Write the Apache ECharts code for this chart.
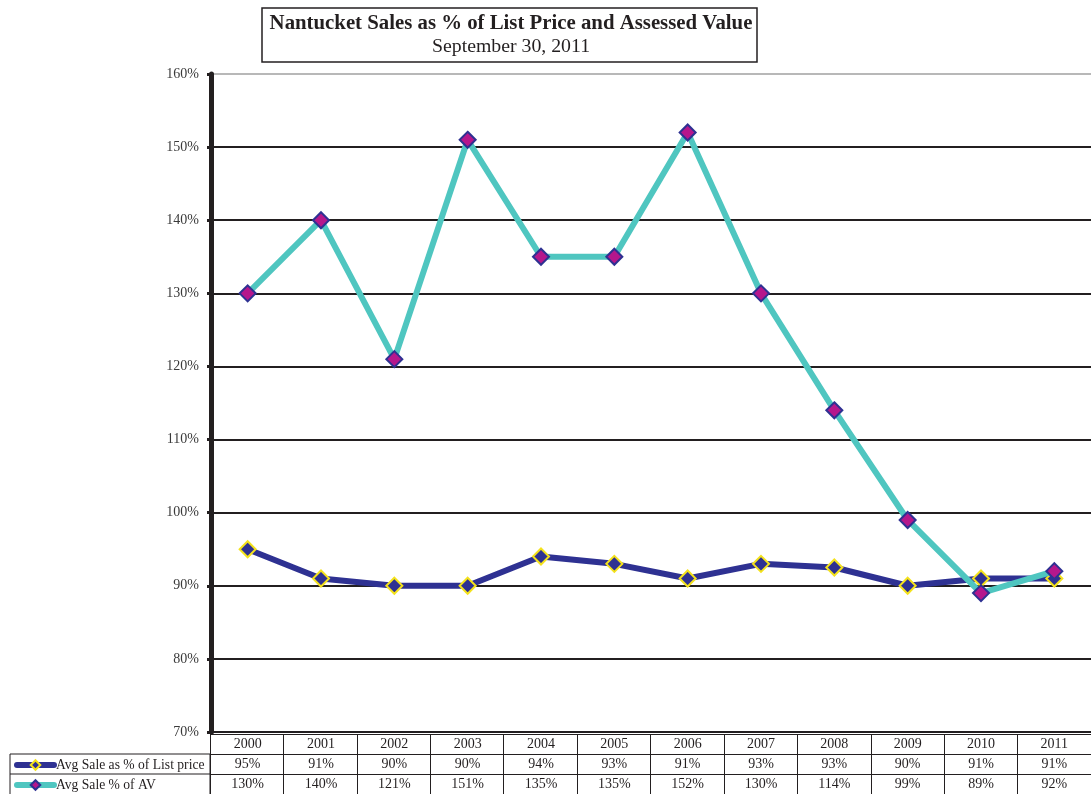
<!DOCTYPE html>
<html>
<head>
<meta charset="utf-8">
<script src="https://cdn.jsdelivr.net/npm/echarts@6/dist/echarts.min.js"></script>
<style>
  html, body { margin: 0; padding: 0; background: #fff; }
  #chart { width: 1091px; height: 794px; }
</style>
</head>
<body>
<div id="chart"></div>
<script>
// Nantucket sales ratios by year
const years = ['2000', '2001', '2002', '2003', '2004', '2005', '2006', '2007', '2008', '2009', '2010', '2011'];
const listPricePct = [95, 91, 90, 90, 94, 93, 91, 93, 92.5, 90, 91, 91];
const assessedPct = [130, 140, 121, 151, 135, 135, 152, 130, 114, 99, 89, 92];
const seriesNames = ['Avg Sale as % of List price', 'Avg Sale % of AV'];
const yTicks = { min: 70, max: 160, interval: 10 };

const SERIF = '"Liberation Serif", "DejaVu Serif", serif';
const INK = '#231f20';
const NAVY = '#2e3192';
const TEAL = '#4fc6c0';

// plot frame, shared by the chart and the data table underneath it
const plotLeft = 211, plotTop = 74, plotWidth = 891, plotBottomY = 734;
const rowH = 20;

const chart = echarts.init(document.getElementById('chart'), null, { renderer: 'canvas' });

const gridColors = [];
for (let v = yTicks.min; v <= yTicks.max; v += yTicks.interval) {
  gridColors.push(v === yTicks.max ? '#b8b8b8' : INK);
}

// one legend row per table row (top = row centre minus half the item height)
const legendRow = (name, centreY) => ({
  orient: 'horizontal',
  left: 14,
  top: centreY - 6,
  padding: 0,
  itemWidth: 37,
  itemHeight: 12,
  lineStyle: { width: 6, cap: 'round' },
  textStyle: { fontFamily: SERIF, fontSize: 13.6, color: INK, padding: [0, 0, 0, -3] },
  data: [name]
});

chart.setOption({
  backgroundColor: '#ffffff',
  animation: false,
  title: {
    text: 'Nantucket Sales as % of List Price and Assessed Value',
    subtext: 'September 30, 2011',
    left: 506,
    top: 8,
    textAlign: 'center',
    itemGap: 3,
    textStyle: { fontFamily: SERIF, fontWeight: 'bold', fontSize: 20.8, color: INK },
    subtextStyle: { fontFamily: SERIF, fontSize: 19.8, color: INK }
  },
  legend: [
    legendRow(seriesNames[0], plotBottomY + rowH * 1.5),
    legendRow(seriesNames[1], plotBottomY + rowH * 2.5)
  ],
  grid: [
    { left: plotLeft, top: plotTop, width: plotWidth, height: plotBottomY - plotTop, containLabel: false },
    { left: plotLeft - 1, top: plotBottomY, width: plotWidth, height: rowH * 3, containLabel: false }
  ],
  xAxis: [
    {
      gridIndex: 0,
      type: 'category',
      data: years,
      boundaryGap: true,
      axisLine: { show: true, lineStyle: { color: INK, width: 1.5 } },
      axisTick: { show: false },
      splitLine: { show: false },
      axisLabel: {
        margin: 2,
        interval: 0,
        color: INK,
        fontFamily: SERIF,
        fontSize: 14,
        lineHeight: rowH,
        formatter: (val, idx) =>
          val + '\n' + Math.round(listPricePct[idx]) + '%\n' + Math.round(assessedPct[idx]) + '%'
      }
    },
    {
      gridIndex: 1,
      type: 'category',
      data: years,
      boundaryGap: true,
      axisLine: { show: false },
      axisTick: { show: false },
      axisLabel: { show: false },
      splitLine: { show: true, interval: 0, lineStyle: { color: INK, width: 1 } }
    }
  ],
  yAxis: [
    {
      gridIndex: 0,
      type: 'value',
      min: yTicks.min,
      max: yTicks.max,
      interval: yTicks.interval,
      axisLine: { show: true, lineStyle: { color: INK, width: 5 } },
      axisTick: { show: true, length: 4, lineStyle: { color: INK, width: 3 } },
      axisLabel: {
        margin: 12,
        color: '#3a3a3a',
        fontFamily: SERIF,
        fontSize: 14,
        formatter: '{value}%'
      },
      splitLine: { show: true, lineStyle: { color: gridColors, width: 2 } }
    },
    {
      gridIndex: 1,
      type: 'value',
      min: 0,
      max: 3,
      interval: 1,
      axisLine: { show: true, lineStyle: { color: INK, width: 1 } },
      axisTick: { show: false },
      axisLabel: { show: false },
      splitLine: { show: true, lineStyle: { color: INK, width: 1 } }
    }
  ],
  series: [
    {
      name: seriesNames[0],
      type: 'line',
      xAxisIndex: 0,
      yAxisIndex: 0,
      data: listPricePct,
      symbol: 'diamond',
      symbolSize: 16,
      lineStyle: { color: NAVY, width: 6 },
      itemStyle: { color: NAVY, borderColor: '#f4e21c', borderWidth: 2 },
      z: 3
    },
    {
      name: seriesNames[1],
      type: 'line',
      xAxisIndex: 0,
      yAxisIndex: 0,
      data: assessedPct,
      symbol: 'diamond',
      symbolSize: 16,
      lineStyle: { color: TEAL, width: 6 },
      itemStyle: { color: '#b5178c', borderColor: NAVY, borderWidth: 2 },
      z: 4
    }
  ],
  graphic: [
    // frame around the title block
    {
      type: 'rect',
      shape: { x: 262, y: 8, width: 495, height: 54 },
      style: { fill: 'none', stroke: INK, lineWidth: 1.5 },
      silent: true
    },
    // legend column of the data table
    {
      type: 'rect',
      shape: { x: 10, y: plotBottomY + rowH, width: plotLeft - 11, height: rowH * 2 + 2 },
      style: { fill: 'none', stroke: INK, lineWidth: 1 },
      silent: true
    },
    {
      type: 'line',
      shape: { x1: 10, y1: plotBottomY + rowH * 2, x2: plotLeft - 1, y2: plotBottomY + rowH * 2 },
      style: { stroke: INK, lineWidth: 1 },
      silent: true
    }
  ]
});
</script>
</body>
</html>
